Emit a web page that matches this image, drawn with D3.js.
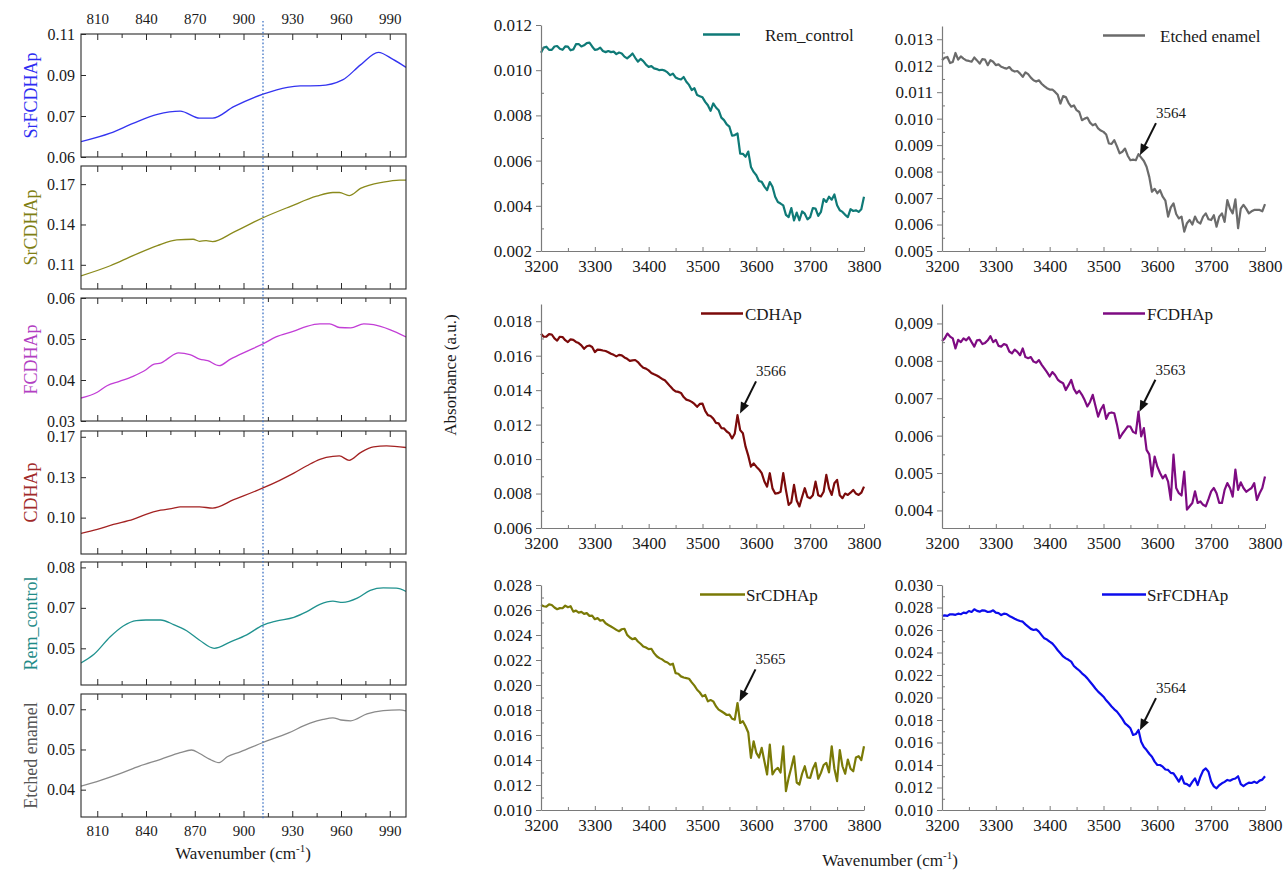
<!DOCTYPE html>
<html>
<head>
<meta charset="utf-8">
<script src="https://cdn.jsdelivr.net/npm/d3@7"></script>
<style>
  body { margin: 0; background: #ffffff; }
  svg text { font-family: "Liberation Serif", "Times New Roman", serif; }
</style>
</head>
<body>
<svg id="chart" width="1283" height="872"></svg>
<script>
// ===================== DATA =====================
// ---- Left column: 800–1000 cm-1 region ----
const lowTickValues = [810, 840, 870, 900, 930, 960, 990];
const lowTickLabels = ["810", "840", "870", "900", "930", "960", "990"];
const lowMinorTicks = [825, 855, 885, 915, 945, 975];
const markerWavenumber = 912;

const srfcdhapLowX = [800, 818, 832, 847, 861, 873, 881, 894, 912, 927, 935, 947, 961, 972, 983, 992, 1000];
const srfcdhapLowY = [0.0656, 0.0687, 0.0723, 0.0756, 0.0768, 0.0742, 0.0742, 0.0784, 0.0830, 0.0855, 0.0860, 0.0861, 0.0882, 0.0937, 0.0983, 0.0957, 0.0928];

const srcdhapLowX = [800, 818, 832, 847, 859, 869, 873, 877, 881, 894, 912, 929, 945, 955, 959, 965, 972, 986, 996, 1000];
const srcdhapLowY = [0.1018, 0.1093, 0.1168, 0.1243, 0.1285, 0.1290, 0.1275, 0.1280, 0.1273, 0.1343, 0.1450, 0.1535, 0.1610, 0.1638, 0.1638, 0.1615, 0.1668, 0.1715, 0.1730, 0.1730];

const fcdhapLowX = [800, 810, 816, 824, 832, 840, 845, 849, 853, 860, 867, 873, 878, 885, 892, 902, 912, 920, 931, 939, 947, 953, 959, 966, 974, 980, 990, 1000];
const fcdhapLowY = [0.0356, 0.0370, 0.0386, 0.0397, 0.0409, 0.0425, 0.0439, 0.0441, 0.0451, 0.0466, 0.0462, 0.0451, 0.0447, 0.0435, 0.0451, 0.0470, 0.0488, 0.0505, 0.0519, 0.0531, 0.0537, 0.0537, 0.0528, 0.0527, 0.0537, 0.0535, 0.0523, 0.0505];

const cdhapLowX = [800, 810, 820, 832, 840, 849, 857, 861, 873, 881, 894, 912, 922, 931, 939, 947, 955, 959, 965, 972, 980, 988, 1000];
const cdhapLowY = [0.0863, 0.0898, 0.0942, 0.0985, 0.1029, 0.1064, 0.1082, 0.1093, 0.1093, 0.1082, 0.1155, 0.1257, 0.1321, 0.1385, 0.1449, 0.1505, 0.1531, 0.1534, 0.1496, 0.1563, 0.1613, 0.1621, 0.1607];

const remLowX = [800, 808, 818, 826, 834, 840, 849, 857, 865, 873, 882, 892, 902, 912, 920, 931, 939, 947, 955, 961, 970, 978, 986, 994, 1000];
const remLowY = [0.0446, 0.0478, 0.0543, 0.0583, 0.0603, 0.0605, 0.0605, 0.0588, 0.0565, 0.0530, 0.0500, 0.0524, 0.0550, 0.0586, 0.0601, 0.0615, 0.0636, 0.0663, 0.0675, 0.0670, 0.0686, 0.0715, 0.0724, 0.0723, 0.0711];

const etchedLowX = [800, 812, 824, 836, 849, 861, 868, 873, 879, 885, 890, 898, 912, 927, 941, 949, 955, 960, 966, 976, 986, 996, 1000];
const etchedLowY = [0.0413, 0.0435, 0.0460, 0.0488, 0.0513, 0.0538, 0.0548, 0.0535, 0.0514, 0.0501, 0.0523, 0.0541, 0.0576, 0.0610, 0.0648, 0.0662, 0.0668, 0.0660, 0.0657, 0.0683, 0.0695, 0.0698, 0.0694];

// ---- Right block: 3200–3800 cm-1 region (sampled every 5 cm-1) ----
const highWavenumbers = d3.range(3200, 3801, 5);
const highTickValues = [3200, 3300, 3400, 3500, 3600, 3700, 3800];
const highTickLabels = ["3200", "3300", "3400", "3500", "3600", "3700", "3800"];
const highMinorTicks = [3250, 3350, 3450, 3550, 3650, 3750];

const remHighY = [
  0.01077,0.01100,0.01104,0.01090,0.01090,0.01105,0.01107,0.01095,0.01090,0.01105,
  0.01104,0.01088,0.01092,0.01115,0.01116,0.01105,0.01110,0.01120,0.01122,0.01105,
  0.01090,0.01092,0.01100,0.01085,0.01080,0.01085,0.01080,0.01082,0.01071,0.01078,
  0.01074,0.01060,0.01052,0.01062,0.01074,0.01055,0.01038,0.01050,0.01040,0.01025,
  0.01015,0.01018,0.01008,0.01005,0.01000,0.01002,0.00998,0.00990,0.00978,0.00985,
  0.00968,0.00962,0.00959,0.00970,0.00949,0.00935,0.00912,0.00920,0.00890,0.00885,
  0.00880,0.00860,0.00845,0.00820,0.00853,0.00835,0.00823,0.00790,0.00779,0.00760,
  0.00750,0.00710,0.00713,0.00720,0.00631,0.00630,0.00617,0.00640,0.00572,0.00550,
  0.00535,0.00510,0.00506,0.00485,0.00469,0.00505,0.00484,0.00440,0.00417,0.00410,
  0.00402,0.00360,0.00350,0.00390,0.00335,0.00370,0.00336,0.00375,0.00365,0.00340,
  0.00350,0.00390,0.00388,0.00355,0.00373,0.00430,0.00417,0.00440,0.00427,0.00450,
  0.00402,0.00380,0.00373,0.00360,0.00350,0.00385,0.00377,0.00380,0.00373,0.00385,
  0.00440];

const etchedHighY = [
  0.01221,0.01230,0.01233,0.01210,0.01214,0.01248,0.01223,0.01235,0.01227,0.01220,
  0.01218,0.01215,0.01231,0.01220,0.01208,0.01225,0.01223,0.01202,0.01221,0.01215,
  0.01202,0.01205,0.01196,0.01192,0.01189,0.01195,0.01183,0.01178,0.01180,0.01170,
  0.01158,0.01175,0.01168,0.01155,0.01145,0.01140,0.01145,0.01132,0.01123,0.01115,
  0.01110,0.01110,0.01101,0.01090,0.01057,0.01085,0.01082,0.01060,0.01045,0.01050,
  0.01032,0.01025,0.00994,0.01000,0.01004,0.00985,0.00975,0.00980,0.00963,0.00955,
  0.00950,0.00940,0.00906,0.00905,0.00919,0.00895,0.00869,0.00875,0.00887,0.00860,
  0.00843,0.00845,0.00843,0.00866,0.00853,0.00840,0.00818,0.00780,0.00724,0.00735,
  0.00718,0.00730,0.00705,0.00690,0.00630,0.00665,0.00680,0.00640,0.00623,0.00630,
  0.00573,0.00605,0.00617,0.00600,0.00630,0.00610,0.00604,0.00630,0.00642,0.00620,
  0.00617,0.00635,0.00592,0.00630,0.00642,0.00610,0.00692,0.00660,0.00642,0.00695,
  0.00586,0.00660,0.00674,0.00660,0.00642,0.00650,0.00655,0.00655,0.00655,0.00650,
  0.00677];

const cdhapHighY = [
  0.01727,0.01710,0.01711,0.01725,0.01723,0.01700,0.01688,0.01710,0.01708,0.01690,
  0.01679,0.01695,0.01692,0.01680,0.01673,0.01660,0.01640,0.01655,0.01659,0.01650,
  0.01621,0.01635,0.01634,0.01630,0.01627,0.01620,0.01611,0.01605,0.01596,0.01605,
  0.01602,0.01590,0.01582,0.01570,0.01573,0.01575,0.01563,0.01545,0.01530,0.01525,
  0.01515,0.01500,0.01492,0.01485,0.01476,0.01465,0.01457,0.01440,0.01422,0.01405,
  0.01393,0.01390,0.01384,0.01360,0.01345,0.01340,0.01332,0.01320,0.01303,0.01320,
  0.01322,0.01280,0.01255,0.01250,0.01235,0.01210,0.01207,0.01180,0.01178,0.01160,
  0.01149,0.01120,0.01149,0.01255,0.01168,0.01150,0.01072,0.01020,0.00956,0.00975,
  0.00956,0.00940,0.00918,0.00870,0.00840,0.00918,0.00830,0.00800,0.00802,0.00810,
  0.00918,0.00820,0.00734,0.00750,0.00850,0.00760,0.00725,0.00780,0.00831,0.00780,
  0.00773,0.00790,0.00869,0.00790,0.00783,0.00810,0.00908,0.00830,0.00792,0.00860,
  0.00879,0.00790,0.00773,0.00800,0.00792,0.00805,0.00821,0.00800,0.00792,0.00805,
  0.00840];

const fcdhapHighY = [
  0.00853,0.00860,0.00873,0.00865,0.00860,0.00833,0.00856,0.00850,0.00860,0.00855,
  0.00863,0.00850,0.00838,0.00855,0.00856,0.00845,0.00848,0.00855,0.00866,0.00850,
  0.00856,0.00840,0.00838,0.00845,0.00842,0.00825,0.00820,0.00830,0.00824,0.00815,
  0.00833,0.00810,0.00807,0.00810,0.00798,0.00795,0.00802,0.00790,0.00780,0.00770,
  0.00758,0.00770,0.00762,0.00750,0.00744,0.00740,0.00722,0.00735,0.00749,0.00725,
  0.00713,0.00720,0.00709,0.00695,0.00678,0.00690,0.00709,0.00680,0.00651,0.00670,
  0.00682,0.00645,0.00660,0.00662,0.00660,0.00630,0.00593,0.00605,0.00615,0.00625,
  0.00624,0.00610,0.00606,0.00664,0.00598,0.00620,0.00562,0.00550,0.00491,0.00544,
  0.00517,0.00500,0.00486,0.00495,0.00477,0.00428,0.00549,0.00460,0.00446,0.00440,
  0.00504,0.00402,0.00411,0.00420,0.00451,0.00420,0.00424,0.00415,0.00411,0.00430,
  0.00451,0.00460,0.00446,0.00420,0.00420,0.00455,0.00473,0.00460,0.00437,0.00509,
  0.00455,0.00475,0.00460,0.00450,0.00455,0.00460,0.00473,0.00428,0.00446,0.00460,
  0.00491];

const srcdhapHighY = [
  0.02640,0.02630,0.02627,0.02645,0.02640,0.02620,0.02606,0.02615,0.02614,0.02635,
  0.02622,0.02630,0.02587,0.02595,0.02579,0.02585,0.02569,0.02575,0.02553,0.02555,
  0.02526,0.02535,0.02515,0.02520,0.02494,0.02480,0.02468,0.02455,0.02441,0.02430,
  0.02446,0.02450,0.02401,0.02380,0.02366,0.02375,0.02348,0.02330,0.02308,0.02300,
  0.02287,0.02290,0.02255,0.02230,0.02215,0.02205,0.02188,0.02180,0.02162,0.02170,
  0.02095,0.02090,0.02069,0.02060,0.02055,0.02050,0.02021,0.01995,0.01962,0.01940,
  0.01909,0.01920,0.01869,0.01880,0.01869,0.01830,0.01803,0.01790,0.01776,0.01760,
  0.01763,0.01730,0.01723,0.01856,0.01696,0.01710,0.01670,0.01620,0.01417,0.01550,
  0.01457,0.01420,0.01497,0.01390,0.01284,0.01523,0.01284,0.01320,0.01337,0.01300,
  0.01510,0.01151,0.01257,0.01340,0.01430,0.01220,0.01204,0.01290,0.01350,0.01260,
  0.01257,0.01330,0.01377,0.01250,0.01297,0.01360,0.01377,0.01300,0.01510,0.01330,
  0.01231,0.01480,0.01350,0.01290,0.01404,0.01330,0.01310,0.01420,0.01430,0.01400,
  0.01510];

const srfcdhapHighY = [
  0.02724,0.02730,0.02725,0.02740,0.02739,0.02735,0.02745,0.02740,0.02754,0.02750,
  0.02769,0.02760,0.02784,0.02770,0.02763,0.02775,0.02772,0.02760,0.02763,0.02775,
  0.02754,0.02750,0.02733,0.02745,0.02742,0.02725,0.02713,0.02700,0.02689,0.02680,
  0.02674,0.02650,0.02630,0.02610,0.02600,0.02605,0.02585,0.02555,0.02526,0.02515,
  0.02496,0.02480,0.02452,0.02420,0.02393,0.02365,0.02348,0.02335,0.02319,0.02280,
  0.02259,0.02240,0.02215,0.02195,0.02170,0.02140,0.02111,0.02080,0.02052,0.02030,
  0.02007,0.01975,0.01948,0.01920,0.01895,0.01875,0.01844,0.01810,0.01770,0.01750,
  0.01726,0.01667,0.01675,0.01711,0.01607,0.01560,0.01533,0.01500,0.01474,0.01430,
  0.01400,0.01400,0.01385,0.01360,0.01356,0.01330,0.01326,0.01290,0.01252,0.01300,
  0.01237,0.01230,0.01213,0.01250,0.01281,0.01222,0.01296,0.01350,0.01370,0.01340,
  0.01252,0.01210,0.01193,0.01220,0.01237,0.01250,0.01267,0.01260,0.01273,0.01280,
  0.01300,0.01230,0.01213,0.01230,0.01243,0.01240,0.01252,0.01240,0.01261,0.01270,
  0.01300];

// Annotated peaks (wavenumber, absorbance at arrow tip)
const peakLabels = ["3564", "3566", "3563", "3565", "3564"];
const peakWavenumbers = [3564, 3566, 3563, 3565, 3564];
const peakValues = [0.00862, 0.01265, 0.00664, 0.01869, 0.01710];

// ===================== LAYOUT / STYLE =====================
const svg = d3.select("#chart");
const FONT = "'Liberation Serif','Times New Roman',serif";

// ---------- Left column ----------
const lowX = d3.scaleLinear().domain([800, 1000]).range([81, 406]);
const lowTops = [34, 166, 298, 431, 562, 694];
const lowH = 123;

const lowPanels = [
  { name: "SrFCDHAp", xs: srfcdhapLowX, ys: srfcdhapLowY, domain: [0.06, 0.105],
    ticks: [0.06, 0.075, 0.09, 0.105], labels: ["0.06", "0.07", "0.09", "0.11"], line: "#3434f0", title: "#2d2df2" },
  { name: "SrCDHAp", xs: srcdhapLowX, ys: srcdhapLowY, domain: [0.092, 0.1835],
    ticks: [0.11, 0.14, 0.17], labels: ["0.11", "0.14", "0.17"], line: "#8a8a1c", title: "#7f7f14" },
  { name: "FCDHAp", xs: fcdhapLowX, ys: fcdhapLowY, domain: [0.03, 0.06],
    ticks: [0.03, 0.04, 0.05, 0.06], labels: ["0.03", "0.04", "0.05", "0.06"], line: "#c23ed6", title: "#b23fc2" },
  { name: "CDHAp", xs: cdhapLowX, ys: cdhapLowY, domain: [0.0685, 0.175],
    ticks: [0.10, 0.135, 0.17], labels: ["0.10", "0.13", "0.17"], line: "#a32222", title: "#a12a2a" },
  { name: "Rem_control", xs: remLowX, ys: remLowY, domain: [0.0364, 0.082],
    ticks: [0.05, 0.065, 0.08], labels: ["0.05", "0.07", "0.08"], line: "#20928f", title: "#1f8b88" },
  { name: "Etched enamel", xs: etchedLowX, ys: etchedLowY, domain: [0.0298, 0.0757],
    ticks: [0.04, 0.055, 0.07], labels: ["0.04", "0.05", "0.07"], line: "#8a8a8a", title: "#555555" }
];

const defs = svg.append("defs");

lowPanels.forEach((p, i) => {
  const top = lowTops[i], bottom = top + lowH;
  const y = d3.scaleLinear().domain(p.domain).range([bottom, top]);
  const g = svg.append("g");

  defs.append("clipPath").attr("id", "clipLow" + i)
    .append("rect").attr("x", 81).attr("y", top).attr("width", 325).attr("height", lowH);

  g.append("path")
    .datum(d3.zip(p.xs, p.ys))
    .attr("clip-path", `url(#clipLow${i})`)
    .attr("fill", "none")
    .attr("stroke", p.line)
    .attr("stroke-width", 1.3)
    .attr("d", d3.line().x(d => lowX(d[0])).y(d => y(d[1])).curve(d3.curveMonotoneX));

  // ticks (inward) bottom and top
  const axB = g.append("g").attr("transform", `translate(0,${bottom})`)
    .call(d3.axisBottom(lowX).tickValues(lowTickValues).tickSize(-6).tickFormat(""));
  const axBm = g.append("g").attr("transform", `translate(0,${bottom})`)
    .call(d3.axisBottom(lowX).tickValues(lowMinorTicks).tickSize(-4).tickFormat(""));
  const axT = g.append("g").attr("transform", `translate(0,${top})`)
    .call(d3.axisTop(lowX).tickValues(lowTickValues).tickSize(-6).tickFormat(""));
  const axTm = g.append("g").attr("transform", `translate(0,${top})`)
    .call(d3.axisTop(lowX).tickValues(lowMinorTicks).tickSize(-4).tickFormat(""));
  const axL = g.append("g").attr("transform", `translate(81,0)`)
    .call(d3.axisLeft(y).tickValues(p.ticks).tickSize(-5).tickPadding(6)
      .tickFormat((d, k) => p.labels[k]));
  [axB, axBm, axT, axTm, axL].forEach(a => {
    a.select(".domain").remove();
    a.selectAll("line").attr("stroke", "#2a2a2a");
  });
  axL.selectAll("text").attr("font-family", FONT).attr("font-size", 16).attr("fill", "#1a1a1a");

  // frame
  g.append("rect").attr("x", 81).attr("y", top).attr("width", 325).attr("height", lowH)
    .attr("fill", "none").attr("stroke", "#2a2a2a").attr("stroke-width", 1.1);

  // panel title (rotated)
  g.append("text")
    .attr("transform", `translate(37,${top + lowH / 2}) rotate(-90)`)
    .attr("text-anchor", "middle")
    .attr("font-family", FONT).attr("font-size", 18)
    .attr("fill", p.title)
    .text(p.name);
});

// top and bottom tick labels of left column
const lowTopAxis = svg.append("g").attr("transform", `translate(0,${lowTops[0]})`)
  .call(d3.axisTop(lowX).tickValues(lowTickValues).tickSize(0).tickPadding(10)
    .tickFormat((d, k) => lowTickLabels[k]));
const lowBottomAxis = svg.append("g").attr("transform", `translate(0,${lowTops[5] + lowH})`)
  .call(d3.axisBottom(lowX).tickValues(lowTickValues).tickSize(0).tickPadding(8)
    .tickFormat((d, k) => lowTickLabels[k]));
[lowTopAxis, lowBottomAxis].forEach(a => {
  a.select(".domain").remove();
  a.selectAll("text").attr("font-family", FONT).attr("font-size", 15).attr("fill", "#1a1a1a");
});

// dotted marker line
svg.append("line")
  .attr("x1", lowX(markerWavenumber)).attr("x2", lowX(markerWavenumber))
  .attr("y1", 21).attr("y2", 820)
  .attr("stroke", "#3f73c4").attr("stroke-width", 1.3)
  .attr("stroke-dasharray", "1.6,2");

// x-axis title helper
function wavenumberTitle(x, y) {
  const t = svg.append("text").attr("x", x).attr("y", y).attr("text-anchor", "middle")
    .attr("font-family", FONT).attr("font-size", 17).attr("fill", "#1a1a1a");
  t.append("tspan").text("Wavenumber (cm");
  t.append("tspan").attr("dy", -7).attr("font-size", 11).text("-1");
  t.append("tspan").attr("dy", 7).text(")");
}
wavenumberTitle(243, 859);

// ---------- Right block ----------
const colLeft = [541, 942];
const colWidth = 323;
const rowBottoms = [251, 528, 810];

const highPanels = [
  { name: "Rem_control", ys: remHighY, domain: [0.002, 0.012], color: "#0f7a77",
    major: [0.002, 0.004, 0.006, 0.008, 0.010, 0.012],
    labels: ["0.002", "0.004", "0.006", "0.008", "0.010", "0.012"],
    minor: [0.003, 0.005, 0.007, 0.009, 0.011] },
  { name: "Etched enamel", ys: etchedHighY, domain: [0.005, 0.0135], color: "#6b6b6b",
    major: [0.005, 0.006, 0.007, 0.008, 0.009, 0.010, 0.011, 0.012, 0.013],
    labels: ["0.005", "0.006", "0.007", "0.008", "0.009", "0.010", "0.011", "0.012", "0.013"],
    minor: [0.0055, 0.0065, 0.0075, 0.0085, 0.0095, 0.0105, 0.0115, 0.0125] },
  { name: "CDHAp", ys: cdhapHighY, domain: [0.006, 0.019], color: "#7b0a0a",
    major: [0.006, 0.008, 0.010, 0.012, 0.014, 0.016, 0.018],
    labels: ["0.006", "0.008", "0.010", "0.012", "0.014", "0.016", "0.018"],
    minor: [0.007, 0.009, 0.011, 0.013, 0.015, 0.017] },
  { name: "FCDHAp", ys: fcdhapHighY, domain: [0.00353, 0.00952], color: "#7e0b82",
    major: [0.004, 0.005, 0.006, 0.007, 0.008, 0.009],
    labels: ["0.004", "0.005", "0.006", "0.007", "0.008", "0,009"],
    minor: [0.0045, 0.0055, 0.0065, 0.0075, 0.0085] },
  { name: "SrCDHAp", ys: srcdhapHighY, domain: [0.010, 0.028], color: "#7a7a06",
    major: [0.010, 0.012, 0.014, 0.016, 0.018, 0.020, 0.022, 0.024, 0.026, 0.028],
    labels: ["0.010", "0.012", "0.014", "0.016", "0.018", "0.020", "0.022", "0.024", "0.026", "0.028"],
    minor: [0.011, 0.013, 0.015, 0.017, 0.019, 0.021, 0.023, 0.025, 0.027] },
  { name: "SrFCDHAp", ys: srfcdhapHighY, domain: [0.010, 0.030], color: "#0c0cec",
    major: [0.010, 0.012, 0.014, 0.016, 0.018, 0.020, 0.022, 0.024, 0.026, 0.028, 0.030],
    labels: ["0.010", "0.012", "0.014", "0.016", "0.018", "0.020", "0.022", "0.024", "0.026", "0.028", "0.030"],
    minor: [0.011, 0.013, 0.015, 0.017, 0.019, 0.021, 0.023, 0.025, 0.027, 0.029] }
];
const highTops = [25, 26, 304, 304, 585, 585];
const legendLineStart = [162, 161, 160, 161, 159, 160];
const legendLineEnd = [199, 203, 202, 203, 204, 204];
const legendTextX = [224, 218, 204, 205, 205, 205];
const peakPanel = [1, 2, 3, 4, 5];

const highScales = [];

highPanels.forEach((p, i) => {
  const col = i % 2, row = Math.floor(i / 2);
  const left = colLeft[col], bottom = rowBottoms[row], top = highTops[i];
  const x = d3.scaleLinear().domain([3200, 3800]).range([left, left + colWidth]);
  const y = d3.scaleLinear().domain(p.domain).range([bottom, top]);
  highScales[i] = { x, y, top, left };
  const g = svg.append("g");

  g.append("path")
    .datum(d3.zip(highWavenumbers, p.ys))
    .attr("fill", "none")
    .attr("stroke", p.color)
    .attr("stroke-width", 2.2)
    .attr("stroke-linejoin", "round")
    .attr("d", d3.line().x(d => x(d[0])).y(d => y(d[1])));

  const yMaj = g.append("g").attr("transform", `translate(${left},0)`)
    .call(d3.axisLeft(y).tickValues(p.major).tickSize(5).tickSizeOuter(0).tickPadding(4)
      .tickFormat((d, k) => p.labels[k]));
  const yMin = g.append("g").attr("transform", `translate(${left},0)`)
    .call(d3.axisLeft(y).tickValues(p.minor).tickSize(-3).tickFormat(""));
  yMin.select(".domain").remove();
  const xMaj = g.append("g").attr("transform", `translate(0,${bottom})`)
    .call(d3.axisBottom(x).tickValues(highTickValues).tickSize(-4).tickSizeOuter(0).tickPadding(9)
      .tickFormat((d, k) => highTickLabels[k]));
  const xMin = g.append("g").attr("transform", `translate(0,${bottom})`)
    .call(d3.axisBottom(x).tickValues(highMinorTicks).tickSize(-3).tickFormat(""));
  xMin.select(".domain").remove();
  [yMaj, yMin, xMaj, xMin].forEach(a => {
    a.selectAll("line").attr("stroke", "#7a7a7a");
    a.selectAll(".domain").attr("stroke", "#7a7a7a").attr("stroke-width", 1.2);
    a.selectAll("text").attr("font-family", FONT).attr("font-size", 17).attr("fill", "#1a1a1a");
  });

  const ly = top + 9.5;
  g.append("line")
    .attr("x1", left + legendLineStart[i]).attr("x2", left + legendLineEnd[i])
    .attr("y1", ly).attr("y2", ly)
    .attr("stroke", p.color).attr("stroke-width", 2.5);
  g.append("text")
    .attr("x", left + legendTextX[i]).attr("y", ly + 6)
    .attr("font-family", FONT).attr("font-size", 17).attr("fill", "#1a1a1a")
    .text(p.name);
});

// peak annotations
peakPanel.forEach((pi, k) => {
  const s = highScales[pi];
  const tipX = s.x(peakWavenumbers[k]) + 2;
  const tipY = s.y(peakValues[k]);
  const tailX = tipX + 16, tailY = tipY - 32;
  const dx = tipX - tailX, dy = tipY - tailY;
  const len = Math.hypot(dx, dy), ux = dx / len, uy = dy / len;
  const headLen = 11, headHalf = 4.5;
  const baseX = tipX - ux * headLen, baseY = tipY - uy * headLen;
  svg.append("line")
    .attr("x1", tailX).attr("y1", tailY).attr("x2", baseX + ux).attr("y2", baseY + uy)
    .attr("stroke", "#111").attr("stroke-width", 2);
  svg.append("path")
    .attr("d", `M${tipX},${tipY}L${baseX - uy * headHalf},${baseY + ux * headHalf}L${baseX + uy * headHalf},${baseY - ux * headHalf}Z`)
    .attr("fill", "#111");
  svg.append("text")
    .attr("x", tailX + 15).attr("y", tailY - 5)
    .attr("text-anchor", "middle")
    .attr("font-family", FONT).attr("font-size", 15).attr("fill", "#1a1a1a")
    .text(peakLabels[k]);
});

// shared right titles
svg.append("text")
  .attr("transform", "translate(456,375) rotate(-90)")
  .attr("text-anchor", "middle")
  .attr("font-family", FONT).attr("font-size", 17).attr("fill", "#1a1a1a")
  .text("Absorbance (a.u.)");
wavenumberTitle(890, 866);
</script>
</body>
</html>
